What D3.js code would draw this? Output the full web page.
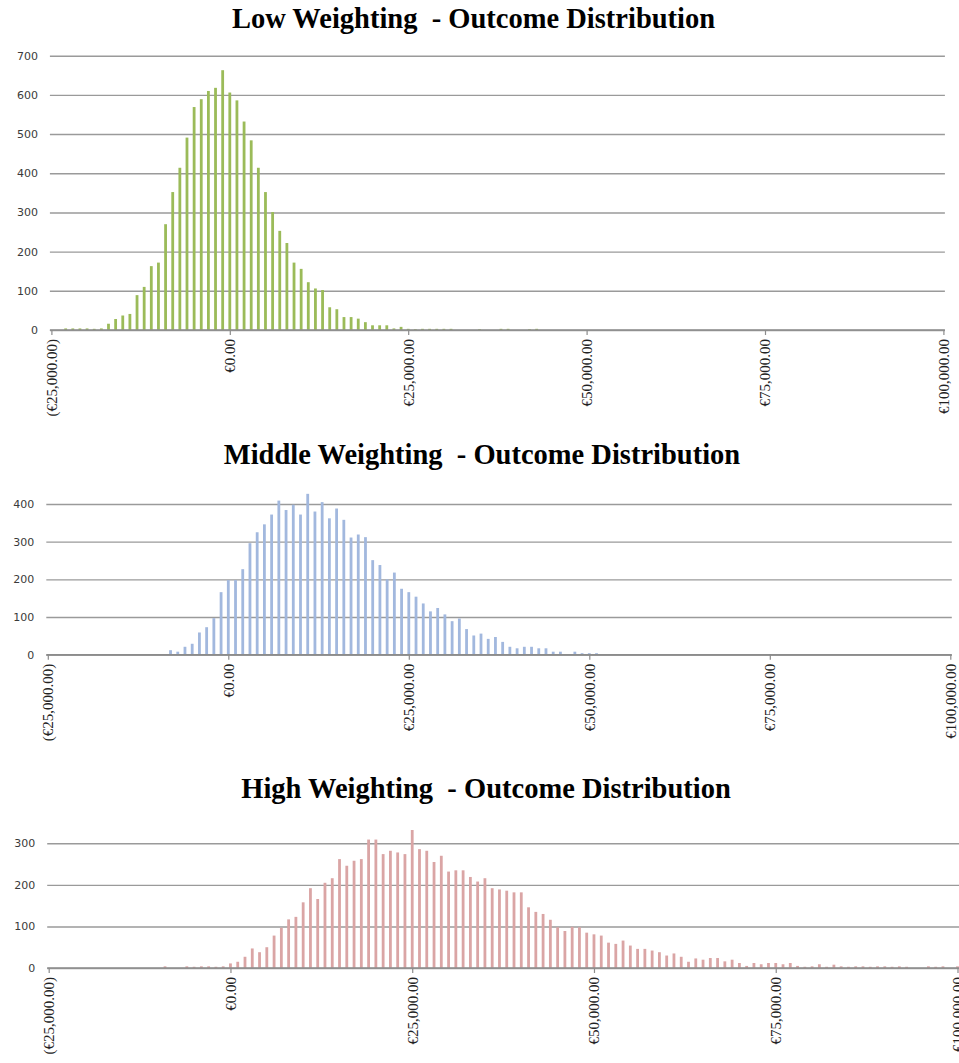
<!DOCTYPE html>
<html>
<head>
<meta charset="utf-8">
<script src="https://cdn.jsdelivr.net/npm/d3@7/dist/d3.min.js"></script>
<style>
  html, body { margin: 0; padding: 0; background: #fff; }
  svg { display: block; }
</style>
</head>
<body>
<svg id="chart" width="959" height="1063"></svg>
<script>
// Outcome bins: €1,000 wide, from (€25,000) up to €100,000
const binStarts = d3.range(-25000, 100001, 1000);

// Labelled bins on the category axis and their text
const xTickValues = [-25000, 0, 25000, 50000, 75000, 100000];
const xTickLabels = ["(€25,000.00)", "€0.00", "€25,000.00", "€50,000.00", "€75,000.00", "€100,000.00"];

const titles = [
  "Low Weighting  - Outcome Distribution",
  "Middle Weighting  - Outcome Distribution",
  "High Weighting  - Outcome Distribution"
];

// Frequency per bin (126 bins each)
const lowWeighting = [
  0, 0, 4, 4, 4, 4, 3, 4, 16, 28,
  37, 41, 89, 110, 163, 172, 270, 352, 414, 491,
  569, 589, 610, 618, 663, 606, 586, 532, 484, 414,
  352, 301, 253, 222, 172, 156, 122, 106, 102, 58,
  53, 33, 33, 29, 20, 12, 12, 12, 4, 8,
  3, 2, 3, 3, 3, 3, 3, 0, 0, 0,
  2, 0, 0, 3, 3, 0, 0, 2, 3, 0,
  0, 0, 0, 0, 0, 0, 0, 0, 0, 0,
  0, 0, 0, 0, 0, 0, 0, 0, 0, 0,
  0, 0, 0, 0, 0, 0, 0, 0, 0, 0,
  0, 0, 0, 0, 0, 0, 0, 0, 0, 0,
  0, 0, 0, 0, 0, 0, 0, 0, 0, 0,
  0, 0, 0, 0, 0, 0
];

const middleWeighting = [
  0, 0, 0, 0, 0, 0, 0, 0, 0, 0,
  0, 0, 0, 0, 0, 0, 0, 12, 8, 21,
  29, 59, 73, 97, 166, 198, 198, 227, 296, 325,
  346, 372, 409, 384, 398, 372, 427, 380, 405, 362,
  388, 358, 311, 319, 312, 251, 238, 200, 218, 175,
  166, 154, 136, 115, 124, 107, 89, 96, 68, 51,
  56, 42, 47, 34, 21, 17, 21, 21, 17, 17,
  8, 8, 0, 8, 4, 4, 4, 0, 0, 0,
  0, 0, 0, 0, 0, 0, 0, 0, 0, 0,
  0, 0, 0, 0, 0, 0, 0, 0, 0, 0,
  0, 0, 0, 0, 0, 0, 0, 0, 0, 0,
  0, 0, 0, 0, 0, 0, 0, 0, 0, 0,
  0, 0, 0, 0, 0, 0
];

const highWeighting = [
  0, 0, 0, 0, 0, 0, 0, 0, 0, 0,
  0, 0, 0, 0, 0, 0, 4, 0, 0, 4,
  3, 4, 4, 3, 4, 11, 15, 27, 47, 38,
  50, 78, 97, 117, 123, 158, 192, 166, 205, 216,
  262, 246, 258, 262, 309, 309, 274, 282, 278, 274,
  332, 286, 282, 255, 270, 232, 235, 235, 219, 208,
  216, 192, 189, 186, 182, 182, 146, 135, 130, 116,
  98, 89, 99, 98, 85, 81, 78, 61, 58, 66,
  54, 46, 46, 42, 38, 30, 35, 27, 15, 23,
  20, 24, 24, 16, 20, 12, 5, 12, 9, 12,
  12, 9, 12, 5, 3, 4, 9, 3, 8, 4,
  3, 4, 4, 3, 4, 4, 3, 4, 3, 0,
  0, 4, 3, 4, 0, 4
];

const yTicksLow = [0, 100, 200, 300, 400, 500, 600, 700];
const yTicksMiddle = [0, 100, 200, 300, 400];
const yTicksHigh = [0, 100, 200, 300];

// Panel geometry and styling
const panels = [
  { title: titles[0], values: lowWeighting, yTicks: yTicksLow, yMax: 700,
    titleX: 473.5, titleY: 28, xRange: [51.4, 943.4], yRange: [330, 55.7], color: "#9bbb59" },
  { title: titles[1], values: middleWeighting, yTicks: yTicksMiddle, yMax: 400,
    titleX: 482, titleY: 464, xRange: [47.8, 950.3], yRange: [654.7, 504], color: "#a2b8de" },
  { title: titles[2], values: highWeighting, yTicks: yTicksHigh, yMax: 300,
    titleX: 486, titleY: 798, xRange: [48.7, 957.5], yRange: [968, 843.3], color: "#daa5a5" }
];

const svg = d3.select("#chart");

panels.forEach(p => {
  const g = svg.append("g");
  const x = d3.scalePoint().domain(binStarts).range(p.xRange);
  const y = d3.scaleLinear().domain([0, p.yMax]).range(p.yRange);
  const gridStart = p.xRange[0] - 1.5;
  const gridEnd = p.xRange[1] + 1.5;

  // Title
  g.append("text")
    .attr("x", p.titleX)
    .attr("y", p.titleY)
    .attr("text-anchor", "middle")
    .style("white-space", "pre")
    .attr("font-family", "'Liberation Serif', 'Times New Roman', serif")
    .attr("font-weight", "bold")
    .attr("font-size", 28.5)
    .attr("fill", "#000")
    .text(p.title);

  // Value axis with horizontal gridlines
  const yAxis = d3.axisLeft(y)
    .tickValues(p.yTicks)
    .tickSize(-(gridEnd - gridStart))
    .tickPadding(12)
    .tickFormat(d3.format("d"));
  const ya = g.append("g")
    .attr("transform", `translate(${gridStart},0)`)
    .call(yAxis);
  ya.select(".domain").remove();
  ya.selectAll(".tick line")
    .attr("stroke", "#9a9a9a")
    .attr("stroke-width", 1.4);
  ya.selectAll(".tick text")
    .attr("font-family", "'DejaVu Sans', Verdana, sans-serif")
    .attr("font-size", 11)
    .attr("fill", "#3a3a3a");

  // Bars
  const barW = 2.8;
  g.append("g")
    .selectAll("rect")
    .data(binStarts.map((b, i) => ({ bin: b, v: p.values[i] })).filter(d => d.v > 0))
    .join("rect")
    .attr("x", d => x(d.bin) - barW / 2)
    .attr("y", d => y(d.v))
    .attr("width", barW)
    .attr("height", d => y(0) - y(d.v))
    .attr("fill", p.color);

  // Category axis line
  g.append("line")
    .attr("x1", gridStart)
    .attr("x2", gridEnd)
    .attr("y1", y(0))
    .attr("y2", y(0))
    .attr("stroke", "#8c8c8c")
    .attr("stroke-width", 1.4);

  // Category ticks and rotated labels
  const xAxis = d3.axisBottom(x)
    .tickValues(xTickValues)
    .tickSize(5)
    .tickFormat((d, i) => xTickLabels[i]);
  const xa = g.append("g")
    .attr("transform", `translate(0,${y(0)})`)
    .call(xAxis);
  xa.select(".domain").remove();
  xa.selectAll(".tick line")
    .attr("stroke", "#8c8c8c")
    .attr("stroke-width", 1.2);
  xa.selectAll(".tick text")
    .attr("font-family", "'Liberation Serif', 'Times New Roman', serif")
    .attr("font-size", 15)
    .attr("fill", "#222")
    .attr("text-anchor", "end")
    .attr("transform", "rotate(-90)")
    .attr("x", -9)
    .attr("y", 0)
    .attr("dy", "0.33em");
});
</script>
</body>
</html>
